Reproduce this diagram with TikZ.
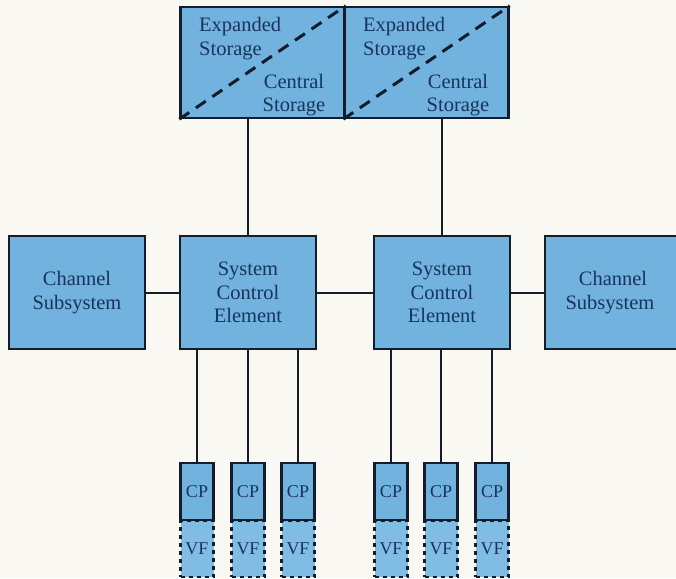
\documentclass[tikz,border=0pt]{standalone}
\usepackage{fontspec}
\setmainfont{Liberation Serif}
\usepackage{tikz}

\definecolor{boxblue}{RGB}{114,178,222}
\definecolor{vfblue}{RGB}{128,188,228}
\definecolor{inkblue}{RGB}{22,52,92}
\definecolor{edge}{RGB}{18,28,42}
\definecolor{paper}{RGB}{250,248,242}

\begin{document}
\begin{tikzpicture}[x=1pt,y=-1pt,
    unit/.style={draw=edge,line width=2.4pt,fill=boxblue,text=inkblue,align=center,
        font=\fontsize{20.5}{23.5}\selectfont,inner sep=0pt},
    big/.style={unit,minimum width=136pt,minimum height=113pt},
    store/.style={unit,minimum width=164pt,minimum height=111pt},
    proc/.style={unit,minimum width=33pt,minimum height=57pt,font=\fontsize{18}{20}\selectfont},
    vec/.style={draw=edge,line width=2.2pt,dash pattern=on 4pt off 4pt,fill=vfblue,
        minimum width=33pt,minimum height=56pt,inner sep=0pt,text=inkblue,
        font=\fontsize{18}{20}\selectfont},
    txt/.style={text=inkblue,align=center,font=\fontsize{20.5}{23.5}\selectfont,inner sep=0pt},
    wire/.style={draw=edge,line width=2pt}]
    \fill[paper] (0,0) rectangle (676,578);
    \useasboundingbox (0,0) rectangle (676,578);
    \begin{scope}
    \clip (0,0) rectangle (676,578);

    % storage
    \node[store] (st1) at (262.5,62.5) {};
    \node[store] (st2) at (426.5,62.5) {};
    \draw[edge,line width=3pt,dash pattern=on 12pt off 8pt] (st1.south west)--(st1.north east);
    \draw[edge,line width=3pt,dash pattern=on 12pt off 8pt] (st2.south west)--(st2.north east);
    \node[txt,align=left,anchor=west] (es1) at (199,38.5) {Expanded\\Storage};
    \node[txt] (cs1) at (294,95) {Central\\Storage};
    \node[txt,align=left,anchor=west] (es2) at (363,38.5) {Expanded\\Storage};
    \node[txt] (cs2) at (458,95) {Central\\Storage};

    % middle row
    \node[big] (ch1) at (77,292.5) {Channel\\Subsystem};
    \node[big] (sce1) at (248,292.5) {System\\Control\\Element};
    \node[big] (sce2) at (442,292.5) {System\\Control\\Element};
    \node[big,text width=128pt] (ch2) at (613,292.5) {Channel\\Subsystem\hspace*{6pt}};

    \draw[wire] (st1.south -| sce1.north) -- (sce1.north);
    \draw[wire] (st2.south -| sce2.north) -- (sce2.north);
    \draw[wire] (ch1.east) -- (sce1.west);
    \draw[wire] (sce1.east) -- (sce2.west);
    \draw[wire] (sce2.east) -- (ch2.west);

    % processors
    \foreach \n/\x/\s in {1/197/sce1,2/248/sce1,3/298/sce1,4/391/sce2,5/441/sce2,6/492/sce2} {
        \node[vec,anchor=north] (vf\n) at (\x,520) {VF};
        \node[proc] (cp\n) at (\x,491.5) {CP};
        \draw[wire] (\s.south -| cp\n.north) -- (cp\n.north);
    }
    \end{scope}
\end{tikzpicture}
\end{document}
